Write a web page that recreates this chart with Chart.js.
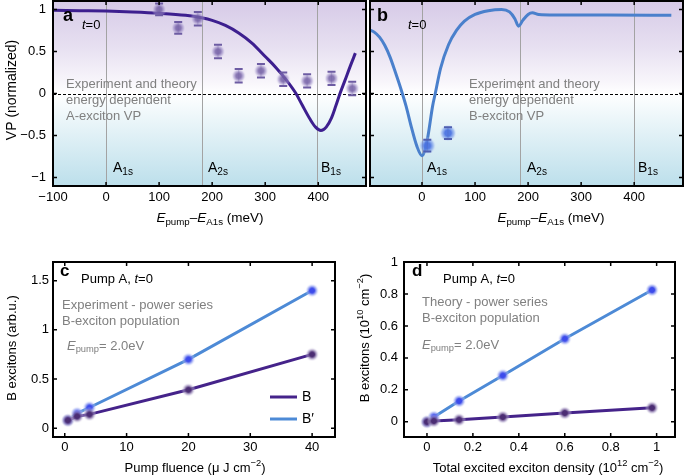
<!DOCTYPE html>
<html>
<head>
<meta charset="utf-8">
<script src="https://cdn.jsdelivr.net/npm/chart.js@4/dist/chart.umd.min.js"></script>
<style>
  body { margin: 0; background: #fff; }
  #fig { position: relative; width: 685px; height: 476px; overflow: hidden; }
  canvas { position: absolute; }
</style>
</head>
<body>
<div id="fig">
  <canvas id="pa" width="370" height="240" style="left:0;top:0"></canvas>
  <canvas id="pb" width="319" height="240" style="left:366px;top:0"></canvas>
  <canvas id="pc" width="345" height="226" style="left:0;top:250px"></canvas>
  <canvas id="pd" width="340" height="226" style="left:345px;top:250px"></canvas>
</div>
<script>
// ---- data ----
// panel a: A-exciton VP vs pump energy
const theoryAx = [-100, -50, 0, 50, 100, 150, 180, 200, 225, 250, 275, 300, 320, 340, 358, 370, 385, 395, 405, 415, 425, 433, 441, 450, 460, 470];
const theoryAy = [0.99, 0.985, 0.98, 0.97, 0.955, 0.93, 0.9, 0.87, 0.81, 0.72, 0.6, 0.44, 0.31, 0.16, 0, -0.14, -0.31, -0.4, -0.44, -0.4, -0.29, -0.15, 0, 0.15, 0.32, 0.48];
const expAx = [100, 136, 173, 211, 250, 292, 334, 379, 425, 464];
const expAy = [1.0, 0.78, 0.89, 0.5, 0.21, 0.27, 0.17, 0.15, 0.18, 0.06];
const expAerr = [0.07, 0.07, 0.08, 0.08, 0.08, 0.08, 0.08, 0.08, 0.08, 0.08];
const levelsA = [0, 180, 398];

// panel b: B-exciton VP vs pump energy
const theoryBx = [-100, -90, -80, -70, -60, -50, -40, -30, -20, -10, 0, 10, 20, 25, 35, 50, 65, 80, 100, 125, 150, 165, 175, 182, 190, 200, 208, 220, 250, 350, 470];
const theoryBy = [0.76, 0.73, 0.67, 0.57, 0.43, 0.25, 0.06, -0.15, -0.4, -0.62, -0.74, -0.55, -0.15, 0, 0.3, 0.58, 0.75, 0.86, 0.94, 0.985, 1.0, 0.97, 0.89, 0.8, 0.87, 0.94, 0.96, 0.94, 0.935, 0.935, 0.93];
const expBx = [10, 49];
const expBy = [-0.62, -0.47];
const expBerr = [0.07, 0.07];
const levelsB = [0, 184, 400];

const energyTicks = [-100, 0, 100, 200, 300, 400];
const energyTicksB = [0, 100, 200, 300, 400];
const vpTicks = [-1, -0.5, 0, 0.5, 1];

// panel c: experiment power series
const fluence = [0.5, 2, 4, 20, 40];
const expB = [0.08, 0.12, 0.14, 0.39, 0.75];
const expBprime = [0.08, 0.15, 0.21, 0.70, 1.40];
const fluenceTicks = [0, 10, 20, 30, 40];
const arbTicks = [0, 0.5, 1, 1.5];

// panel d: theory power series
const density = [0, 0.03, 0.14, 0.33, 0.6, 0.98];
const thB = [0, 0.005, 0.013, 0.03, 0.055, 0.088];
const thBprime = [0, 0.03, 0.13, 0.29, 0.52, 0.825];
const densityTicks = [0, 0.2, 0.4, 0.6, 0.8, 1];
const popTicks = [0, 0.2, 0.4, 0.6, 0.8, 1];

// ---- helpers ----
const fam = '"Liberation Sans", Arial, Helvetica, sans-serif';
Chart.defaults.font.family = fam;
Chart.defaults.font.size = 13;
Chart.defaults.color = '#000';
Chart.defaults.animation = false;

const pts = (xs, ys) => xs.map((x, i) => ({ x, y: ys[i] }));

function glow(size, core, halo) {
  const c = document.createElement('canvas');
  c.width = c.height = size;
  const g = c.getContext('2d');
  const r = size / 2;
  const grd = g.createRadialGradient(r, r, 0, r, r, r);
  grd.addColorStop(0, core);
  grd.addColorStop(0.35, core);
  grd.addColorStop(0.7, halo);
  grd.addColorStop(1, 'rgba(255,255,255,0)');
  g.fillStyle = grd;
  g.fillRect(0, 0, size, size);
  return c;
}
const glowA = glow(15, 'rgba(115,95,165,0.85)', 'rgba(165,150,205,0.5)');
const glowB = glow(18, 'rgba(75,115,225,0.95)', 'rgba(120,155,235,0.5)');
const dotBlue = glow(14, 'rgba(60,75,235,1)', 'rgba(150,165,240,0.55)');
const dotPurple = glow(14, 'rgba(75,45,115,1)', 'rgba(165,150,195,0.55)');

// text with italic / bold / sub / sup parts
function rich(ctx, parts, x, y, size, color, align) {
  const fontOf = f => (f.includes('i') ? 'italic ' : '') + (f.includes('b') ? 'bold ' : '') +
    ((f.includes('s') || f.includes('p')) ? size * 0.72 : size) + 'px ' + fam;
  let w = 0;
  const items = parts.map(([t, f = '']) => {
    ctx.font = fontOf(f);
    const m = ctx.measureText(t).width;
    w += m;
    return { t, f, m };
  });
  let cx = align === 'center' ? x - w / 2 : align === 'right' ? x - w : x;
  ctx.fillStyle = color;
  ctx.textBaseline = 'middle';
  ctx.textAlign = 'left';
  items.forEach(it => {
    ctx.font = fontOf(it.f);
    const dy = it.f.includes('s') ? size * 0.3 : it.f.includes('p') ? -size * 0.35 : 0;
    ctx.fillText(it.t, cx, y + dy);
    cx += it.m;
  });
}
function richUp(ctx, parts, x, y, size, color) {
  ctx.save();
  ctx.translate(x, y);
  ctx.rotate(-Math.PI / 2);
  rich(ctx, parts, 0, 0, size, color, 'center');
  ctx.restore();
}

function axis(min, max, ticks, size, showLabels, pad) {
  return {
    type: 'linear', min, max,
    grid: { display: false, drawTicks: false },
    border: { display: false },
    ticks: { display: showLabels, padding: pad, font: { size: 13 }, callback: v => String(v).replace('-', '\u2212') },
    afterBuildTicks: s => { s.ticks = ticks.map(v => ({ value: v })); },
    afterFit: s => {
      s.paddingTop = s.paddingBottom = s.paddingLeft = s.paddingRight = 0;
      if (s.isHorizontal()) s.height = size; else s.width = size;
    }
  };
}

const frame = {
  id: 'frame',
  afterDraw(chart) {
    const { ctx, chartArea: a, scales: { x, y } } = chart;
    ctx.save();
    ctx.strokeStyle = '#000';
    ctx.lineWidth = 1.5;
    ctx.beginPath();
    x.ticks.forEach(t => {
      const p = x.getPixelForValue(t.value);
      ctx.moveTo(p, a.bottom); ctx.lineTo(p, a.bottom - 4);
      ctx.moveTo(p, a.top); ctx.lineTo(p, a.top + 4);
    });
    y.ticks.forEach(t => {
      const p = y.getPixelForValue(t.value);
      ctx.moveTo(a.left, p); ctx.lineTo(a.left + 4, p);
      ctx.moveTo(a.right, p); ctx.lineTo(a.right - 4, p);
    });
    ctx.stroke();
    ctx.lineWidth = 2;
    ctx.strokeRect(a.left, a.top, a.right - a.left, a.bottom - a.top);
    ctx.restore();
  }
};

const vpBackground = levels => ({
  id: 'vpBackground',
  beforeDatasetsDraw(chart) {
    const { ctx, chartArea: a, scales: { x, y } } = chart;
    const z = (y.getPixelForValue(0) - a.top) / (a.bottom - a.top);
    const g = ctx.createLinearGradient(0, a.top, 0, a.bottom);
    g.addColorStop(0, '#d6cae7');
    g.addColorStop(z * 0.5, '#e7e0f1');
    g.addColorStop(z - 0.06, '#f8f6fb');
    g.addColorStop(z, '#ffffff');
    g.addColorStop(z + 0.12, '#eef7fa');
    g.addColorStop(1, '#bcdfeb');
    ctx.save();
    ctx.fillStyle = g;
    ctx.fillRect(a.left, a.top, a.right - a.left, a.bottom - a.top);
    ctx.strokeStyle = '#a3a3a3';
    ctx.lineWidth = 1;
    ctx.beginPath();
    levels.forEach(v => {
      const p = Math.round(x.getPixelForValue(v)) + 0.5;
      ctx.moveTo(p, a.top); ctx.lineTo(p, a.bottom);
    });
    ctx.stroke();
    const p0 = Math.round(y.getPixelForValue(0)) + 0.5;
    ctx.strokeStyle = '#000';
    ctx.setLineDash([3, 2]);
    ctx.beginPath();
    ctx.moveTo(a.left, p0); ctx.lineTo(a.right, p0);
    ctx.stroke();
    ctx.restore();
  }
});

const errorBars = (xs, ys, errs, color) => ({
  id: 'errorBars',
  afterDatasetsDraw(chart) {
    const { ctx, scales: { x, y } } = chart;
    ctx.save();
    ctx.strokeStyle = color;
    xs.forEach((xv, i) => {
      const px = x.getPixelForValue(xv);
      const top = y.getPixelForValue(ys[i] + errs[i]);
      const bot = y.getPixelForValue(ys[i] - errs[i]);
      ctx.globalAlpha = 0.3;
      ctx.lineWidth = 1;
      ctx.beginPath(); ctx.moveTo(px, top); ctx.lineTo(px, bot); ctx.stroke();
      ctx.globalAlpha = 1;
      ctx.lineWidth = 2;
      ctx.beginPath();
      ctx.moveTo(px - 4, top); ctx.lineTo(px + 4, top);
      ctx.moveTo(px - 4, bot); ctx.lineTo(px + 4, bot);
      ctx.stroke();
    });
    ctx.restore();
  }
});

const texts = fn => ({ id: 'texts', afterDraw(chart) { fn(chart.ctx, chart); } });

const baseOpts = (padding, xs, ys) => ({
  responsive: false,
  layout: { padding, autoPadding: false },
  plugins: { legend: { display: false }, tooltip: { enabled: false } },
  scales: { x: xs, y: ys }
});

const gray = '#808080';
const energyTitle = [['E', 'i'], ['pump', 's'], ['\u2013'], ['E', 'i'], ['A1s', 's'], [' (meV)']];

// ---- panel a ----
new Chart(document.getElementById('pa'), {
  type: 'scatter',
  data: { datasets: [
    { label: 'A experiment', data: pts(expAx, expAy), pointStyle: glowA, pointRadius: 7 },
    { label: 'A theory', data: pts(theoryAx, theoryAy), showLine: true, pointRadius: 0,
      borderColor: '#3d1f8f', borderWidth: 3, cubicInterpolationMode: 'monotone' }
  ]},
  options: baseOpts({ top: 1, right: 4 }, axis(-100, 490, energyTicks, 54, true, 4), axis(-1.1, 1.1, vpTicks, 53, true, 7)),
  plugins: [vpBackground(levelsA), errorBars(expAx, expAy, expAerr, '#6d5ca3'), frame, texts(ctx => {
    rich(ctx, [['a', 'b']], 63, 16, 18, '#000', 'left');
    rich(ctx, [['t', 'i'], ['=0']], 82, 25, 13, '#000', 'left');
    rich(ctx, [['Experiment and theory']], 66, 84, 13, gray, 'left');
    rich(ctx, [['energy dependent']], 66, 100, 13, gray, 'left');
    rich(ctx, [['A-exciton VP']], 66, 116, 13, gray, 'left');
    rich(ctx, [['A'], ['1s', 's']], 113, 168, 14, '#000', 'left');
    rich(ctx, [['A'], ['2s', 's']], 208, 168, 14, '#000', 'left');
    rich(ctx, [['B'], ['1s', 's']], 321, 168, 14, '#000', 'left');
    rich(ctx, energyTitle, 210, 218, 13.5, '#000', 'center');
    richUp(ctx, [['VP (normalized)']], 12, 90, 14, '#000');
  })]
});

// ---- panel b ----
new Chart(document.getElementById('pb'), {
  type: 'scatter',
  data: { datasets: [
    { label: 'B experiment', data: pts(expBx, expBy), pointStyle: glowB, pointRadius: 9 },
    { label: 'B theory', data: pts(theoryBx, theoryBy), showLine: true, pointRadius: 0,
      borderColor: '#4a80cc', borderWidth: 3, cubicInterpolationMode: 'monotone' }
  ]},
  options: baseOpts({ top: 1, right: 2 }, axis(-98, 492, energyTicksB, 54, true, 4), axis(-1.1, 1.1, vpTicks, 4, false, 0)),
  plugins: [vpBackground(levelsB), errorBars(expBx, expBy, expBerr, '#4f5fb0'), frame, texts(ctx => {
    const o = 366;
    rich(ctx, [['b', 'b']], 377 - o, 16, 18, '#000', 'left');
    rich(ctx, [['t', 'i'], ['=0']], 408 - o, 25, 13, '#000', 'left');
    rich(ctx, [['Experiment and theory']], 469 - o, 84, 13, gray, 'left');
    rich(ctx, [['energy dependent']], 469 - o, 100, 13, gray, 'left');
    rich(ctx, [['B-exciton VP']], 469 - o, 116, 13, gray, 'left');
    rich(ctx, [['A'], ['1s', 's']], 427 - o, 168, 14, '#000', 'left');
    rich(ctx, [['A'], ['2s', 's']], 527 - o, 168, 14, '#000', 'left');
    rich(ctx, [['B'], ['1s', 's']], 638 - o, 168, 14, '#000', 'left');
    rich(ctx, energyTitle, 551 - o, 218, 13.5, '#000', 'center');
  })]
});

// ---- panel c ----
const legendC = {
  id: 'legendC',
  afterDraw(chart) {
    const { ctx } = chart;
    chart.data.datasets.forEach((ds, i) => {
      const yy = 147 + i * 22;
      ctx.save();
      ctx.strokeStyle = ds.borderColor;
      ctx.lineWidth = 3;
      ctx.beginPath(); ctx.moveTo(270, yy); ctx.lineTo(297, yy); ctx.stroke();
      ctx.restore();
      rich(ctx, [[ds.label]], 302, yy, 14, '#000', 'left');
    });
  }
};
new Chart(document.getElementById('pc'), {
  type: 'scatter',
  data: { datasets: [
    { label: 'B', data: pts(fluence, expB), showLine: true, borderColor: '#45238a', borderWidth: 3,
      pointStyle: dotPurple, pointRadius: 7 },
    { label: 'B\u2032', data: pts(fluence, expBprime), showLine: true, borderColor: '#4d8ad6', borderWidth: 3,
      pointStyle: dotBlue, pointRadius: 7 }
  ]},
  options: baseOpts({ top: 12, right: 10 }, axis(-1.9, 43.7, fluenceTicks, 39, true, 3), axis(-0.09, 1.69, arbTicks, 53, true, 4)),
  plugins: [frame, legendC, texts(ctx => {
    rich(ctx, [['c', 'b']], 60, 21, 17, '#000', 'left');
    rich(ctx, [['Pump A, '], ['t', 'i'], ['=0']], 81, 29, 13, '#000', 'left');
    rich(ctx, [['Experiment - power series']], 62, 55, 13, gray, 'left');
    rich(ctx, [['B-exciton population']], 62, 71, 13, gray, 'left');
    rich(ctx, [['E', 'i'], ['pump', 's'], ['= 2.0eV']], 67, 96, 13, gray, 'left');
    rich(ctx, [['Pump fluence (\u03bc J cm'], ['\u22122', 'p'], [')']], 195, 218, 13, '#000', 'center');
    richUp(ctx, [['B excitons (arb.u.)']], 12, 98, 13, '#000');
  })]
});

// ---- panel d ----
new Chart(document.getElementById('pd'), {
  type: 'scatter',
  data: { datasets: [
    { label: 'B', data: pts(density, thB), showLine: true, borderColor: '#45238a', borderWidth: 3,
      pointStyle: dotPurple, pointRadius: 7 },
    { label: 'B\u2032', data: pts(density, thBprime), showLine: true, borderColor: '#4d8ad6', borderWidth: 3,
      pointStyle: dotBlue, pointRadius: 7 }
  ]},
  options: baseOpts({ top: 12, right: 10 }, axis(-0.1, 1.08, densityTicks, 39, true, 3), axis(-0.095, 1.0, popTicks, 59, true, 6)),
  plugins: [frame, texts(ctx => {
    rich(ctx, [['d', 'b']], 67, 21, 17, '#000', 'left');
    rich(ctx, [['Pump A, '], ['t', 'i'], ['=0']], 98, 29, 13, '#000', 'left');
    rich(ctx, [['Theory - power series']], 77, 52, 13, gray, 'left');
    rich(ctx, [['B-exciton population']], 77, 68, 13, gray, 'left');
    rich(ctx, [['E', 'i'], ['pump', 's'], ['= 2.0eV']], 77, 95, 13, gray, 'left');
    rich(ctx, [['Total excited exciton density (10'], ['12', 'p'], [' cm'], ['\u22122', 'p'], [')']], 203, 218, 13, '#000', 'center');
    richUp(ctx, [['B excitons (10'], ['10', 'p'], [' cm'], ['\u22122', 'p'], [')']], 20, 88, 13, '#000');
  })]
});
</script>
</body>
</html>
